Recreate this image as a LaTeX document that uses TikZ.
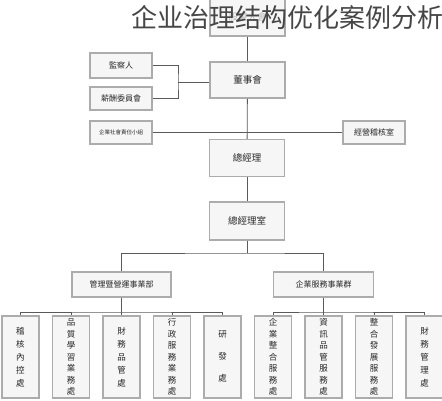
\documentclass[tikz,border=0pt]{standalone}
\usepackage{fontspec}
\setmainfont{Noto Sans CJK TC}
\newfontfamily\titlefont{Noto Sans CJK SC}
\usepackage{tikz}
\usetikzlibrary{positioning}
\definecolor{boxline}{RGB}{172,172,172}
\definecolor{boxfill}{RGB}{246,246,246}
\definecolor{wirecol}{RGB}{90,90,90}
\definecolor{ink}{RGB}{40,40,40}
\definecolor{titlecol}{RGB}{70,70,70}
\tikzset{
  every picture/.style = {
    line join = miter,
  }
  ,
  wire/.style = {
    draw = wirecol,
    line width = 0.8pt
  }
  ,
  unit/.style = {
    rectangle,
    draw = boxline,
    line width = 1.5pt,
    fill = boxfill,
    text = ink,
    inner sep = 0pt,
    font = \fontsize{8}{9}\selectfont
  }
  , % upper boxes
  head/.style = {
    unit,
    minimum width = 75pt,
    minimum height = 37pt,
    font = \fontsize{9.5}{10}\selectfont
  }
  , % side boxes
  side/.style = {
    unit,
    minimum width = 62pt,
    minimum height = 23pt
  }
  , % bottom boxes, upright text
  dept/.style = {
    unit,
    minimum width = 37pt,
    minimum height = 82pt,
    align = center
  }
}

\begin{document}
\begin{tikzpicture}[x = 1pt, y = -1pt]
\useasboundingbox (0,0) rectangle (442,400);

\node [head, minimum height = 38pt, text = gray!55] (gd) at (247.5,17) {股東大會};
\node [head, minimum height = 36pt] (ds) at (247.5,80) {董事會};
\node [side, minimum height = 25pt] (jc) at (121,65.5) {監察人};
\node [side] (xc) at (121,98.5) {薪酬委員會};
\coordinate (jn) at (178,82);

\node [side, font = \fontsize{5.5}{6}\selectfont] (csr) at (121,132.5) {企業社會責任小組};
\node [side] (jh) at (374,132.5) {經營稽核室};
\node [head] (zj) at (247,158) {總經理};
\node [head, minimum height = 38pt] (zs) at (247,221) {總經理室};
\coordinate (bus) at (247,253);

\node [side, minimum width = 99pt, minimum height = 25pt] (ma) at (121.5,284.5) {管理暨營運事業部};
\node [side, minimum width = 100pt, minimum height = 25pt] (mb) at (323.5,284.5) {企業服務事業群};
\coordinate (la) at (121.5,312);
\coordinate (lb) at (323.5,312);

\foreach \i/\txt/\gap in {
  0/{稽\\核\\內\\控\\處}/13pt,
  1/{品\\質\\學\\習\\業\\務\\處}/11.5pt,
  2/{財\\務\\品\\管\\處}/13pt,
  3/{行\\政\\服\\務\\業\\務\\處}/11.5pt,
  4/{研\\發\\處}/22pt,
  5/{企\\業\\整\\合\\服\\務\\處}/11.5pt,
  6/{資\\訊\\品\\管\\服\\務\\處}/11.5pt,
  7/{整\\合\\發\\展\\服\\務\\處}/11.5pt,
  8/{財\\務\\管\\理\\處}/13pt}
  \node [dept, font = {\fontsize{8.5}{\gap}\selectfont}] (d\i) at (20.5+50.5*\i,357) {\txt};

% board level
\draw [wire] (gd) -- (ds);
\draw [wire] (jc.east) -| (jn) |- (xc.east);
\draw [wire] (jn) -- (jn -| ds.west);
\draw [wire] (ds) -- (zj);
\draw [wire] (csr.east) -- (jh.west);
\draw [wire] (zj) -- (zs);

% business groups
\draw [wire] (zs) -- (bus);
\draw [wire] (ma.north) |- (bus) -| (mb.north);
\draw [wire] (ma) -- (la);
\draw [wire] (mb) -- (lb);
\draw [wire] (d0.north) |- (la) -| (d4.north);
\draw [wire] (d5.north) |- (lb) -| (d8.north);
\foreach \i in {1,2,3,6,7}
  \draw [wire] (d\i.north) -- (d\i.north |- la);

\node [font = \titlefont\fontsize{26}{26}\selectfont, text = titlecol, anchor = west, inner sep = 0pt] (tt) at (131,18) {企业治理结构优化案例分析};
\end{tikzpicture}
\end{document}
